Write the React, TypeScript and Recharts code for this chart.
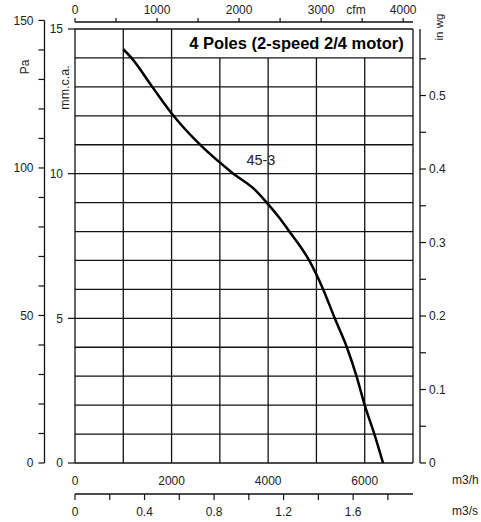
import React from 'react';
import {
  ComposedChart,
  Line,
  XAxis,
  YAxis,
  ReferenceLine,
  ReferenceDot,
  ReferenceArea,
} from 'recharts';

// ---------- data ----------
const flowM3h = [1000, 1170, 1600, 2040, 2590, 3280, 3730, 3970, 4240, 4440, 4850, 5140, 5380, 5630, 5830, 6000, 6200, 6380];
const pressMm = [14.3, 14, 13, 12, 11, 10, 9.44, 9, 8.46, 8, 7, 6, 5, 4, 3, 2, 1, 0];

const curveName = '45-3';
const curveLabelPos = { q: 3850, mm: 10.47 };
const title = '4 Poles (2-speed 2/4 motor)';
const titleSpan = { q1: 2174, q2: 7000, mm1: 14, mm2: 15 };

const m3hDomain = [0, 7000];
const mmDomain = [0, 15];
const paDomain = [0, 150];
const inwgDomain = [0, 0.59055];
const cfmDomain = [0, 4120.0];
const m3sDomain = [0, 1.9444];

const m3hTicks = [0, 2000, 4000, 6000];
const mmTicks = [0, 5, 10, 15];
const paTicks = [0, 10, 20, 30, 40, 50, 60, 70, 80, 90, 100, 110, 120, 130, 140, 150];
const paLabels = [0, 50, 100, 150];
const inwgTicks = [0, 0.05, 0.1, 0.15, 0.2, 0.25, 0.3, 0.35, 0.4, 0.45, 0.5, 0.55];
const inwgLabels = ['0', '0.1', '0.2', '0.3', '0.4', '0.5'];
const cfmTicks = [0, 500, 1000, 1500, 2000, 2500, 3000, 3500, 4000];
const cfmLabels = [0, 1000, 2000, 3000, 4000];
const m3sTicks = [0, 0.2, 0.4, 0.6, 0.8, 1.0, 1.2, 1.4, 1.6, 1.8];
const m3sLabels = ['0', '0.4', '0.8', '1.2', '1.6'];

const gridXFull = [1000, 2000];
const gridXShort = [3000, 4000, 5000, 6000];
const gridY = [1, 2, 3, 4, 5, 6, 7, 8, 9, 10, 11, 12, 13, 14];

const curveData = flowM3h.map((q, i) => ({ q, mm: pressMm[i] }));

// ---------- style ----------
const W = 481;
const H = 522;
const FONT = "'Liberation Sans', Arial, Helvetica, sans-serif";
const INK = '#111';
const TEXT = '#222';
const tickStyle = { fill: TEXT, fontSize: 12, fontFamily: FONT };
const gridStroke = { stroke: INK, strokeWidth: 1.3 };

const layer: React.CSSProperties = { position: 'absolute', left: 0, top: 0, width: W, height: H };

const fmtInwg = (v: number) => {
  const s = v === 0 ? '0' : v.toFixed(1);
  return Math.abs(v * 10 - Math.round(v * 10)) < 1e-6 && inwgLabels.includes(s) ? s : '';
};
const fmtM3s = (v: number) => {
  const s = v === 0 ? '0' : v.toFixed(1);
  return m3sLabels.includes(s) && Math.abs(v / 0.4 - Math.round(v / 0.4)) < 1e-6 ? s : '';
};

// invisible carrier series so that the secondary-axis overlays have scales
const Carrier = ({ xId, yId }: { xId: string; yId: string }) => (
  <Line xAxisId={xId} yAxisId={yId} dataKey="mm" stroke="none" dot={false} activeDot={false} isAnimationActive={false} />
);

export default function App() {
  return (
    <div style={{ position: 'absolute', left: 0, top: 0, width: W, height: H, background: '#fff', fontFamily: FONT }}>
      {/* Main plot: m3/h vs mm.c.a. */}
      <div style={layer}>
        <ComposedChart width={W} height={H} data={curveData} margin={{ top: 29, right: 68, bottom: 28, left: 44 }}>
          <XAxis
            xAxisId="h"
            dataKey="q"
            type="number"
            domain={m3hDomain}
            ticks={m3hTicks}
            interval={0}
            height={31}
            axisLine={false}
            tickLine={false}
            tickSize={6}
            tickMargin={7}
            tick={tickStyle}
          />
          <YAxis
            yAxisId="mm"
            type="number"
            domain={mmDomain}
            ticks={mmTicks}
            interval={0}
            width={31}
            axisLine={false}
            tickLine={{ stroke: INK, strokeWidth: 1.2 }}
            tickSize={7}
            tickMargin={5}
            tick={tickStyle}
          />
          {gridY.map((y) => (
            <ReferenceLine key={'gy' + y} xAxisId="h" yAxisId="mm" y={y} {...gridStroke} />
          ))}
          {gridXFull.map((x) => (
            <ReferenceLine
              key={'gxf' + x}
              xAxisId="h"
              yAxisId="mm"
              segment={[{ x, y: mmDomain[0] }, { x, y: mmDomain[1] }]}
              {...gridStroke}
            />
          ))}
          {gridXShort.map((x) => (
            <ReferenceLine
              key={'gxs' + x}
              xAxisId="h"
              yAxisId="mm"
              segment={[{ x, y: mmDomain[0] }, { x, y: titleSpan.mm1 }]}
              {...gridStroke}
            />
          ))}
          <ReferenceLine xAxisId="h" yAxisId="mm" x={m3hDomain[0]} {...gridStroke} />
          <ReferenceLine xAxisId="h" yAxisId="mm" x={m3hDomain[1]} {...gridStroke} />
          <ReferenceLine xAxisId="h" yAxisId="mm" y={mmDomain[0]} {...gridStroke} />
          <ReferenceLine xAxisId="h" yAxisId="mm" y={mmDomain[1]} {...gridStroke} />
          <ReferenceArea
            xAxisId="h"
            yAxisId="mm"
            x1={titleSpan.q1}
            x2={titleSpan.q2}
            y1={titleSpan.mm1}
            y2={titleSpan.mm2}
            fill="#fff"
            fillOpacity={0}
            stroke="none"
            label={{ value: title, position: 'center', fill: '#000', fontSize: 16.5, fontWeight: 'bold', fontFamily: FONT }}
          />
          <ReferenceDot
            xAxisId="h"
            yAxisId="mm"
            x={curveLabelPos.q}
            y={curveLabelPos.mm}
            r={0}
            fill="none"
            stroke="none"
            label={{ value: curveName, position: 'center', fill: TEXT, fontSize: 14.5, fontFamily: FONT }}
          />
          <Line
            xAxisId="h"
            yAxisId="mm"
            dataKey="mm"
            type="monotone"
            dot={false}
            stroke="#000"
            strokeWidth={2.5}
            isAnimationActive={false}
          />
        </ComposedChart>
      </div>

      {/* Pa axis */}
      <div style={layer}>
        <ComposedChart width={W} height={H} data={curveData} margin={{ top: 20.44, right: 68, bottom: 59, left: 0 }}>
          <XAxis xAxisId="pa" dataKey="q" type="number" domain={m3hDomain} hide />
          <YAxis
            yAxisId="pa"
            type="number"
            domain={paDomain}
            allowDataOverflow
            ticks={paTicks}
            interval={0}
            width={44.5}
            axisLine={{ stroke: INK, strokeWidth: 1.3 }}
            tickLine={{ stroke: INK, strokeWidth: 1.2 }}
            tickSize={6}
            tickMargin={5}
            tick={tickStyle}
            tickFormatter={(v: number) => (paLabels.includes(v) ? String(v) : '')}
          />
          <Carrier xId="pa" yId="pa" />
        </ComposedChart>
      </div>

      {/* in wg axis */}
      <div style={layer}>
        <ComposedChart width={W} height={H} data={curveData} margin={{ top: 29, right: 0, bottom: 59, left: 75 }}>
          <XAxis xAxisId="w" dataKey="q" type="number" domain={m3hDomain} hide />
          <YAxis
            yAxisId="w"
            orientation="right"
            type="number"
            domain={inwgDomain}
            allowDataOverflow
            ticks={inwgTicks}
            interval={0}
            width={61}
            axisLine={{ stroke: INK, strokeWidth: 1.3 }}
            tickLine={{ stroke: INK, strokeWidth: 1.2 }}
            tickSize={6}
            tickMargin={3}
            tick={tickStyle}
            tickFormatter={fmtInwg}
          />
          <Carrier xId="w" yId="w" />
        </ComposedChart>
      </div>

      {/* cfm axis (top) */}
      <div style={layer}>
        <ComposedChart width={W} height={H} data={curveData} margin={{ top: 0, right: 68, bottom: 59, left: 75 }}>
          <XAxis
            xAxisId="cfm"
            dataKey="q"
            orientation="top"
            type="number"
            domain={cfmDomain}
            allowDataOverflow
            ticks={cfmTicks}
            interval={0}
            height={22}
            axisLine={{ stroke: INK, strokeWidth: 1.3 }}
            tickLine={{ stroke: INK, strokeWidth: 1.2 }}
            tickSize={4}
            tickMargin={4}
            tick={tickStyle}
            tickFormatter={(v: number) => (cfmLabels.includes(v) ? String(v) : '')}
          />
          <YAxis yAxisId="cfm" type="number" domain={mmDomain} hide />
          <Carrier xId="cfm" yId="cfm" />
        </ComposedChart>
      </div>

      {/* m3/s axis (bottom) */}
      <div style={layer}>
        <ComposedChart width={W} height={H} data={curveData} margin={{ top: 29, right: 68, bottom: 0, left: 75 }}>
          <XAxis
            xAxisId="s"
            dataKey="q"
            orientation="bottom"
            type="number"
            domain={m3sDomain}
            allowDataOverflow
            ticks={m3sTicks}
            interval={0}
            height={28}
            axisLine={{ stroke: INK, strokeWidth: 1.3 }}
            tickLine={{ stroke: INK, strokeWidth: 1.2 }}
            tickSize={6}
            tickMargin={7}
            tick={tickStyle}
            tickFormatter={fmtM3s}
          />
          <YAxis yAxisId="s" type="number" domain={mmDomain} hide />
          <Carrier xId="s" yId="s" />
        </ComposedChart>
      </div>

      {/* unit labels */}
      <svg width={W} height={H} style={{ ...layer, pointerEvents: 'none' }}>
        <g fontFamily={FONT} fill={TEXT}>
          <text x={25} y={67} fontSize={12} textAnchor="middle" dominantBaseline="central" transform="rotate(-90 25 67)">Pa</text>
          <text x={64.5} y={87.5} fontSize={12.5} textAnchor="middle" dominantBaseline="central" transform="rotate(-90 64.5 87.5)">mm.c.a.</text>
          <text x={439} y={27} fontSize={11.5} textAnchor="middle" dominantBaseline="central" transform="rotate(-90 439 27)">in wg</text>
          <text x={356} y={14} fontSize={12} textAnchor="middle">cfm</text>
          <text x={452} y={480} fontSize={12} dominantBaseline="central">m3/h</text>
          <text x={452} y={511} fontSize={12} dominantBaseline="central">m3/s</text>
        </g>
      </svg>
    </div>
  );
}
